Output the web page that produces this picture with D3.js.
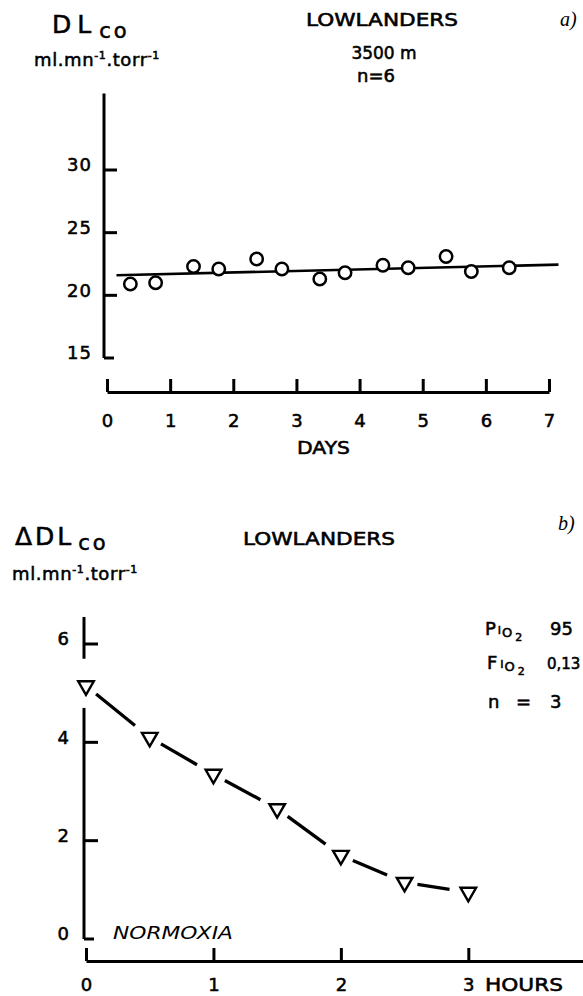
<!DOCTYPE html>
<html>
<head>
<meta charset="utf-8">
<script src="https://cdn.jsdelivr.net/npm/d3@7"></script>
<style>
  body { margin: 0; background: #fff; }
  svg { display: block; }
  text { font-family: "DejaVu Sans", sans-serif; fill: #000; }
</style>
</head>
<body>
<div id="vis"></div>
<script>
// Panel a) DLco en altura, 13 mediciones + recta
const DIAS = [0.37, 0.77, 1.37, 1.77, 2.37, 2.77, 3.37, 3.77, 4.37, 4.77, 5.37, 5.77, 6.37];
const DLCO = [20.9, 21.0, 22.3, 22.1, 22.9, 22.1, 21.3, 21.8, 22.4, 22.2, 23.1, 21.9, 22.2];
const RECTA_DIAS = [0.15, 7.15];
const RECTA_DLCO = [21.6, 22.45];
const TICKS_Y1 = [15, 20, 25, 30];
const TICKS_X1 = [0, 1, 2, 3, 4, 5, 6, 7];

// Panel b) delta DLco en hipoxia aguda
const HORAS = [0, 0.5, 1, 1.5, 2, 2.5, 3];
const DELTA_DLCO = [5.15, 4.1, 3.35, 2.65, 1.7, 1.15, 0.95];
const TICKS_Y2 = [0, 2, 4, 6];
const TICKS_X2 = [0, 1, 2, 3];

const WIDTH = 583;
const HEIGHT = 996;

const SVG = d3.select("#vis").append("svg").attr("width", WIDTH).attr("height", HEIGHT);

const GROSOR = 3; // ejes gruesos como en la figura impresa

function engrosar(sel) {
    // el tipo de la figura es mas pesado que DejaVu normal
    return sel.attr("stroke", "#000").attr("stroke-width", 0.55);
}

function unidades(g, x, y) {
    // ml.mn-1.torr-1 con superindices
    const u = g.append("text").attr("x", x).attr("y", y).attr("font-size", 18)
        .attr("letter-spacing", 0.6).call(engrosar);
    u.append("tspan").text("ml.mn");
    u.append("tspan").text("-1").attr("font-size", 11).attr("dy", -7);
    u.append("tspan").text(".torr").attr("dy", 7);
    u.append("tspan").text("-1").attr("font-size", 11).attr("dy", -7);
}

crearPanelA();
crearPanelB();

function crearPanelA() {
    const x = d3.scaleLinear().domain([0, 7]).range([107, 549]);
    const y = d3.scaleLinear().domain([15, 30]).range([358, 170]);

    const g = SVG.append("g");

    // Titulos
    const t = g.append("text").attr("x", 52).attr("y", 33).attr("font-size", 25).call(engrosar);
    t.append("tspan").text("DL").attr("letter-spacing", 6);
    t.append("tspan").text("co").attr("font-size", 21).attr("letter-spacing", 3).attr("dx", 2).attr("dy", 5);

    unidades(g, 34, 66);

    g.append("text").text("LOWLANDERS").attr("x", 306).attr("y", 26).attr("font-size", 17)
        .attr("textLength", 152).attr("lengthAdjust", "spacingAndGlyphs").call(engrosar);
    g.append("text").text("3500 m").attr("x", 384).attr("y", 59).attr("font-size", 17).attr("text-anchor", "middle").call(engrosar);
    g.append("text").text("n=6").attr("x", 376).attr("y", 82).attr("font-size", 18).attr("text-anchor", "middle").call(engrosar);
    g.append("text").text("a)").attr("x", 560).attr("y", 26).attr("font-size", 20)
        .attr("font-style", "italic").style("font-family", "'Liberation Serif', serif");

    // Eje Y (linea a mano, llega mas arriba que el 30)
    const ejeY = g.append("g").attr("transform", "translate(104, 0)");
    ejeY.append("line").attr("x1", 0).attr("x2", 0).attr("y1", y(36.1)).attr("y2", y(15))
        .attr("stroke", "#000").attr("stroke-width", GROSOR);
    ejeY.selectAll(".tick-y1").data(TICKS_Y1).join("line").attr("class", "tick-y1")
        .attr("x1", 0).attr("x2", d => d == 15 ? 10 : 13).attr("y1", d => y(d)).attr("y2", d => y(d))
        .attr("stroke", "#000").attr("stroke-width", GROSOR);
    ejeY.selectAll(".lab-y1").data(TICKS_Y1).join("text").attr("class", "lab-y1")
        .text(d => d).attr("x", -12).attr("y", d => y(d) - 5).attr("dy", "0.35em")
        .attr("text-anchor", "end").attr("font-size", 18).attr("letter-spacing", 1).call(engrosar);

    // Eje X separado del grafico
    const ejeX = g.append("g").attr("transform", "translate(0, 392)")
        .call(d3.axisBottom(x).tickValues(TICKS_X1).tickFormat(d3.format("d"))
            .tickSize(-13).tickSizeOuter(0).tickPadding(22));
    ejeX.select(".domain").attr("stroke-width", GROSOR);
    ejeX.selectAll(".tick line").attr("stroke-width", GROSOR);
    ejeX.selectAll(".tick text").attr("font-size", 18).attr("font-family", null).call(engrosar);

    g.append("text").text("DAYS").attr("x", 297).attr("y", 454).attr("font-size", 18)
        .attr("textLength", 53).attr("lengthAdjust", "spacingAndGlyphs").call(engrosar);

    // Recta de regresion
    g.append("path").datum(d3.zip(RECTA_DIAS, RECTA_DLCO))
        .attr("d", d3.line().x(d => x(d[0])).y(d => y(d[1])))
        .attr("stroke", "#000").attr("stroke-width", 2.6).attr("fill", "none");

    // Puntos
    g.selectAll(".punto").data(d3.zip(DIAS, DLCO)).join("circle").attr("class", "punto")
        .attr("cx", d => x(d[0])).attr("cy", d => y(d[1])).attr("r", 6.2)
        .attr("fill", "#fff").attr("stroke", "#000").attr("stroke-width", 2.5);
}

function crearPanelB() {
    const x = d3.scaleLinear().domain([0, 3.9]).range([86, 583]);
    const y = d3.scaleLinear().domain([0, 6]).range([939, 644]);

    const g = SVG.append("g");

    const t = g.append("text").attr("x", 15).attr("y", 545).attr("font-size", 25).call(engrosar);
    t.append("tspan").text("ΔDL").attr("letter-spacing", 3);
    t.append("tspan").text("co").attr("font-size", 21).attr("letter-spacing", 3).attr("dx", 4).attr("dy", 5);

    unidades(g, 12, 580);

    g.append("text").text("LOWLANDERS").attr("x", 243).attr("y", 545).attr("font-size", 17)
        .attr("textLength", 152).attr("lengthAdjust", "spacingAndGlyphs").call(engrosar);
    g.append("text").text("b)").attr("x", 558).attr("y", 530).attr("font-size", 20)
        .attr("font-style", "italic").style("font-family", "'Liberation Serif', serif");

    // Condiciones a la derecha
    const p = g.append("text").attr("x", 485).attr("y", 635).attr("font-size", 18).call(engrosar);
    p.append("tspan").text("P");
    p.append("tspan").text("I").attr("font-size", 11).attr("dx", 2).attr("dy", -1);
    p.append("tspan").text("O").attr("font-size", 13).attr("dx", 1).attr("dy", 3);
    p.append("tspan").text("2").attr("font-size", 11).attr("dx", 3).attr("dy", 4);
    p.append("tspan").text("95").attr("x", 550).attr("dy", -6);

    const f = g.append("text").attr("x", 487).attr("y", 669).attr("font-size", 18).call(engrosar);
    f.append("tspan").text("F");
    f.append("tspan").text("I").attr("font-size", 11).attr("dx", 3).attr("dy", -1);
    f.append("tspan").text("O").attr("font-size", 13).attr("dx", 1).attr("dy", 3);
    f.append("tspan").text("2").attr("font-size", 11).attr("dx", 3).attr("dy", 4);
    f.append("tspan").text("0,13").attr("x", 547).attr("dy", -6).attr("font-size", 15);

    const n = g.append("text").attr("x", 488).attr("y", 708).attr("font-size", 18).call(engrosar);
    n.append("tspan").text("n");
    n.append("tspan").text("=").attr("x", 516);
    n.append("tspan").text("3").attr("x", 550);

    // Eje Y cortado donde esta el primer triangulo
    const ejeY = g.append("g").attr("transform", "translate(84, 0)");
    ejeY.selectAll(".tramo").data([[6.55, 5.7], [4.7, 0]]).join("line").attr("class", "tramo")
        .attr("x1", 0).attr("x2", 0).attr("y1", d => y(d[0])).attr("y2", d => y(d[1]))
        .attr("stroke", "#000").attr("stroke-width", GROSOR);
    ejeY.selectAll(".tick-y2").data(TICKS_Y2).join("line").attr("class", "tick-y2")
        .attr("x1", 0).attr("x2", d => d == 0 ? 10 : 14).attr("y1", d => y(d)).attr("y2", d => y(d))
        .attr("stroke", "#000").attr("stroke-width", GROSOR);
    ejeY.selectAll(".lab-y2").data(TICKS_Y2).join("text").attr("class", "lab-y2")
        .text(d => d).attr("x", -15).attr("y", d => y(d) - 5).attr("dy", "0.35em")
        .attr("text-anchor", "end").attr("font-size", 18).call(engrosar);

    g.append("text").text("NORMOXIA").attr("x", 113).attr("y", 939).attr("font-size", 17)
        .attr("font-style", "italic").attr("textLength", 120).attr("lengthAdjust", "spacingAndGlyphs");

    // Eje X, sigue hasta el borde
    const ejeX = g.append("g").attr("transform", "translate(0, 961)")
        .call(d3.axisBottom(x).tickValues(TICKS_X2).tickFormat(d3.format("d"))
            .tickSize(-13).tickSizeOuter(0).tickPadding(17));
    ejeX.select(".domain").attr("stroke-width", GROSOR);
    ejeX.selectAll(".tick line").attr("stroke-width", GROSOR);
    ejeX.selectAll(".tick text").attr("font-size", 18).attr("font-family", null).call(engrosar);

    g.append("text").text("HOURS").attr("x", 485).attr("y", 991).attr("font-size", 18)
        .attr("textLength", 78).attr("lengthAdjust", "spacingAndGlyphs").call(engrosar);

    // Linea cortada: hueco chico despues de cada triangulo, mas grande antes
    const pts = d3.zip(HORAS, DELTA_DLCO).map(d => [x(d[0]), y(d[1])]);
    const tramos = d3.pairs(pts).map(([a, b]) => {
        const dx = b[0] - a[0], dy = b[1] - a[1];
        const L = Math.hypot(dx, dy);
        const ux = dx / L, uy = dy / L;
        return [[a[0] + ux * 13, a[1] + uy * 13], [b[0] - ux * 19, b[1] - uy * 19]];
    });
    g.selectAll(".tramo-linea").data(tramos).join("path").attr("class", "tramo-linea")
        .attr("d", d3.line()).attr("stroke", "#000").attr("stroke-width", 3.3).attr("fill", "none");

    // Triangulos hacia abajo
    g.selectAll(".triangulo").data(pts).join("path").attr("class", "triangulo")
        .attr("d", d3.symbol(d3.symbolTriangle, 105))
        .attr("transform", d => `translate(${d[0]}, ${d[1]}) rotate(180)`)
        .attr("fill", "#fff").attr("stroke", "#000").attr("stroke-width", 2.4);
}
</script>
</body>
</html>
